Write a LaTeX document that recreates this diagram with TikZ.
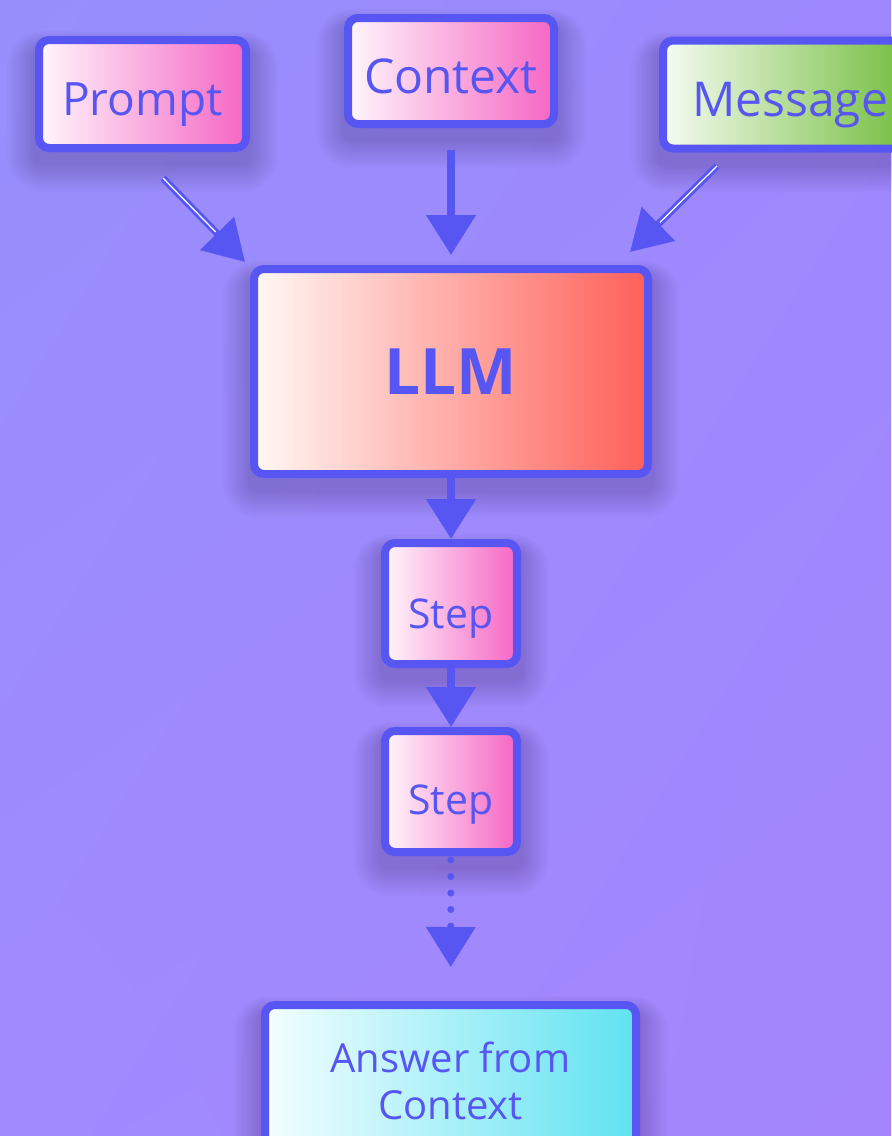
\documentclass[tikz,border=0pt]{standalone}
\usepackage{fontspec}
\setmainfont{Open Sans}
\usetikzlibrary{arrows.meta,shadings}

\pgfdeclarelayer{bg}
\pgfsetlayers{bg,main}

\definecolor{ink}{HTML}{5856F2}
\definecolor{bgUL}{HTML}{978EFC}
\definecolor{bgUR}{HTML}{9D89FD}
\definecolor{bgLL}{HTML}{A08AFE}
\definecolor{bgLR}{HTML}{A485FC}
\definecolor{pinkL}{HTML}{FFF6FB}
\definecolor{pinkR}{HTML}{F566C4}
\definecolor{greenL}{HTML}{F6FBF3}
\definecolor{greenR}{HTML}{70BC38}
\definecolor{redL}{HTML}{FFF8F5}
\definecolor{redR}{HTML}{FF5F58}
\definecolor{cyanL}{HTML}{F4FEFF}
\definecolor{cyanR}{HTML}{60E2F1}

\begin{document}
\begin{tikzpicture}[x=0.5pt, y=-0.5pt, text=ink, align=center]
    \tikzstyle{box}=[draw=ink, line width=4pt, rounded corners=5pt];
    \tikzstyle{pinkbox}=[box, left color=pinkL, right color=pinkR];
    \tikzstyle{big}=[font=\fontsize{24}{29}\selectfont, text depth=0pt];
    \tikzstyle{small}=[font=\fontsize{20.5}{24}\selectfont, text depth=0pt];
    \tikzstyle{arr}=[draw=ink, line width=4pt, -{Triangle[width=24pt,length=20pt]}];
    \tikzstyle{diag}=[draw=ink, line width=3.5pt, -{Triangle[width=23pt,length=20pt]}];
    \tikzstyle{sheen}=[draw=white, line width=0.6pt, shorten >=21pt];
    \tikzstyle{haze}=[fill=black, opacity=0.013];

    % background
    \useasboundingbox (0,0) rectangle (891,1136);
    \begin{pgfonlayer}{bg}
        \shade[upper left=bgUL, upper right=bgUR, lower left=bgLL, lower right=bgLR]
            (0,0) rectangle (891,1136);
    \end{pgfonlayer}

    % inputs
    \node[pinkbox, big, font=\fontsize{23}{28}\selectfont, minimum width=103.5pt,
        minimum height=54pt, text height=21.5pt]
        (prompt) at (142.5,94) {Prompt};
    \node[pinkbox, big, minimum width=103pt, minimum height=53pt, text height=22pt]
        (context) at (451,71) {Context};
    \node[box, left color=greenL, right color=greenR, big, anchor=west, inner xsep=14.5pt,
        minimum height=54pt, text height=21.5pt]
        (message) at (659,94.5) {Message};

    % model and steps
    \node[box, left color=redL, right color=redR, font=\fontsize{32}{40}\selectfont\bfseries,
        minimum width=197pt, minimum height=102.5pt, text height=23pt, text depth=0pt]
        (llm) at (451,371.5) {LLM};
    \node[pinkbox, small, minimum width=66pt, minimum height=60.5pt, text height=24.5pt]
        (step1) at (451,603.5) {Step};
    \node[pinkbox, small, minimum width=66pt, minimum height=60.5pt, text height=23pt]
        (step2) at (451,791.5) {Step};

    \node[box, left color=cyanL, right color=cyanR, font=\fontsize{20}{23.5}\selectfont,
        anchor=north, minimum width=185.5pt, inner ysep=18.5pt]
        (answer) at (450.5,1001) {Answer from\\Context};

    % soft shadows
    \begin{pgfonlayer}{bg}
        \foreach \n in {prompt,context,message,llm,step1,step2,answer}
            \foreach \k in {1,...,14}
                \fill[haze, rounded corners=4pt+\k pt]
                    ([shift={(-\k pt,0.6*\k pt-6pt)}]\n.north west)
                    rectangle ([shift={(\k pt,-\k pt-6pt)}]\n.south east);
    \end{pgfonlayer}

    % connectors
    \coordinate (promptOut) at (163,178);
    \coordinate (llmInL) at (245,262);
    \coordinate (messageOut) at (717,166);
    \coordinate (llmInR) at (630,252);

    \draw[diag] (promptOut) -- (llmInL);
    \draw[sheen] (promptOut) -- (llmInL);
    \draw[diag] (messageOut) -- (llmInR);
    \draw[sheen] (messageOut) -- (llmInR);
    \draw[arr, shorten <=11pt, shorten >=5pt] (context) -- (llm);
    \draw[arr] (llm) -- (step1);
    \draw[arr] (step1) -- (step2);
    \draw[arr, line width=3.5pt, line cap=round, dash pattern=on 0pt off 8.25pt,
        shorten <=2pt, shorten >=17pt] (step2) -- (answer);
\end{tikzpicture}
\end{document}
